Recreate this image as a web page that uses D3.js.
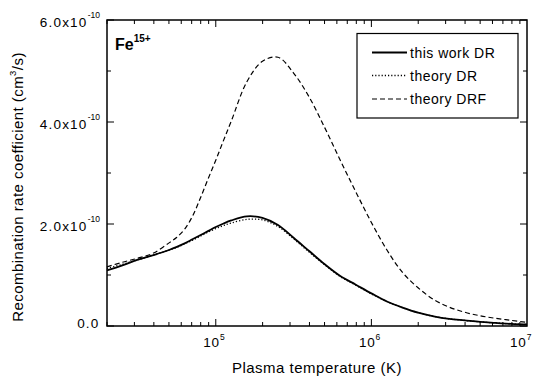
<!DOCTYPE html>
<html><head><meta charset="utf-8">
<script src="https://cdn.jsdelivr.net/npm/d3@7"></script>
<style>body{margin:0;background:#fff}svg{display:block}text{font-family:"Liberation Sans",Arial,sans-serif;fill:#000}</style>
</head><body><svg id="c" width="534" height="377"></svg>
<script>
const logT = [4.301,4.4,4.5,4.6,4.7,4.75,4.8,4.85,4.9,4.95,5.0,5.05,5.1,5.2,5.3,5.4,5.5,5.6,5.7,5.8,5.9,6.0,6.1,6.2,6.3,6.4,6.5,6.6,6.7,6.8,6.9,7.0];
const thisWorkDR = [1.09,1.19,1.30,1.39,1.49,1.55,1.62,1.70,1.78,1.86,1.94,2.01,2.07,2.15,2.12,1.98,1.73,1.47,1.21,0.98,0.81,0.64,0.48,0.36,0.26,0.19,0.14,0.11,0.08,0.06,0.04,0.03];
const theoryDR   = [1.13,1.21,1.30,1.39,1.49,1.54,1.61,1.68,1.76,1.84,1.91,1.97,2.02,2.09,2.08,1.95,1.71,1.45,1.20,0.97,0.80,0.63,0.48,0.36,0.26,0.19,0.14,0.11,0.08,0.06,0.04,0.03];
const theoryDRF  = [1.16,1.25,1.33,1.43,1.63,1.74,1.90,2.15,2.50,2.88,3.25,3.64,4.02,4.79,5.19,5.27,4.96,4.49,3.89,3.25,2.63,2.03,1.49,1.05,0.75,0.52,0.37,0.27,0.20,0.15,0.11,0.07];
const yTickVals = [0,2,4,6];
const yTickLabels = ["0.0","2.0x10","4.0x10","6.0x10"];
const xTickExps = [5,6,7];
const seriesNames = ["this work DR","theory DR","theory DRF"];

const svg = d3.select("#c");
const L=107,R=527,T=20,B=326;
const x = d3.scaleLog().domain([2e4,1e7]).range([L,R]);
const y = d3.scaleLinear().domain([0,6]).range([B,T]);

// ticks
const g = svg.append("g").attr("stroke","#000").attr("stroke-width",1);
const minorX=[];
for(let e=4;e<7;e++) for(let m=1;m<10;m++){const v=m*Math.pow(10,e); if(v>=2e4&&v<=1e7) minorX.push({v,major:m===1});}
minorX.forEach(d=>{
  const len=d.major?7:4;
  g.append("line").attr("x1",x(d.v)).attr("x2",x(d.v)).attr("y1",B).attr("y2",B-len);
  g.append("line").attr("x1",x(d.v)).attr("x2",x(d.v)).attr("y1",T).attr("y2",T+len);
});
[0,1,2,3,4,5,6].forEach(v=>{
  const len=v%2===0?7:4;
  g.append("line").attr("x1",L).attr("x2",L+len).attr("y1",y(v)).attr("y2",y(v));
  g.append("line").attr("x1",R).attr("x2",R-len).attr("y1",y(v)).attr("y2",y(v));
});
svg.append("rect").attr("x",L).attr("y",T).attr("width",R-L).attr("height",B-T)
  .attr("fill","none").attr("stroke","#000").attr("stroke-width",1.5);

// y labels
yTickVals.forEach((v,i)=>{
  if(v===0){
    svg.append("text").attr("x",99.5).attr("y",y(v)+2).attr("text-anchor","end").attr("font-size",13.5).attr("letter-spacing",1.2).text(yTickLabels[i]);
  } else {
    svg.append("text").attr("x",87.5).attr("y",y(v)+6.5).attr("text-anchor","end").attr("font-size",13.5).attr("letter-spacing",1.2).text(yTickLabels[i]);
    svg.append("text").attr("x",100).attr("y",y(v)-2.5).attr("text-anchor","end").attr("font-size",8.5).text("-10");
  }
});
// x labels
xTickExps.forEach(e=>{
  const px = Math.min(x(Math.pow(10,e))-12.5, 510);
  const t=svg.append("text").attr("x",px).attr("y",347).attr("font-size",13.5).attr("letter-spacing",0.8);
  t.append("tspan").text("10");
  t.append("tspan").attr("font-size",8.5).attr("dy",-7).text(e);
});
svg.append("text").attr("x",317).attr("y",373).attr("text-anchor","middle").attr("font-size",15).attr("letter-spacing",0.5).text("Plasma temperature (K)");
const yt=svg.append("text").attr("transform","translate(23,187) rotate(-90)").attr("text-anchor","middle").attr("font-size",15).attr("letter-spacing",0.45);
yt.append("tspan").text("Recombination rate coefficient (cm");
yt.append("tspan").attr("font-size",9.5).attr("dy",-7).text("3");
yt.append("tspan").attr("dy",7).text("/s)");

const ft=svg.append("text").attr("x",115).attr("y",50).attr("font-size",16).attr("font-weight","bold");
ft.append("tspan").text("Fe");
ft.append("tspan").attr("font-size",10).attr("dy",-8).text("15+");

// curves
const line=d3.line().x(d=>x(Math.pow(10,d[0]))).y(d=>y(d[1])).curve(d3.curveCatmullRom.alpha(0.5));
const series=[
 {vals:thisWorkDR,dash:null,w:1.8},
 {vals:theoryDR,dash:"1.2,2",w:1.3},
 {vals:theoryDRF,dash:"5,3",w:1.2}];
series.forEach(s=>{
  svg.append("path").attr("d",line(logT.map((t,i)=>[t,s.vals[i]]))).attr("fill","none")
    .attr("stroke","#000").attr("stroke-width",s.w).attr("stroke-dasharray",s.dash);
});

// legend
svg.append("rect").attr("x",357).attr("y",33.5).attr("width",161).attr("height",84.5).attr("fill","#fff").attr("stroke","#000").attr("stroke-width",1.2);
[52.5,75.5,99].forEach((yy,i)=>{
  svg.append("line").attr("x1",372).attr("x2",407).attr("y1",yy).attr("y2",yy).attr("stroke","#000")
   .attr("stroke-width",series[i].w).attr("stroke-dasharray",series[i].dash);
  svg.append("text").attr("x",410).attr("y",yy+5).attr("font-size",14).attr("letter-spacing",0.5).text(seriesNames[i]);
});
</script></body></html>
